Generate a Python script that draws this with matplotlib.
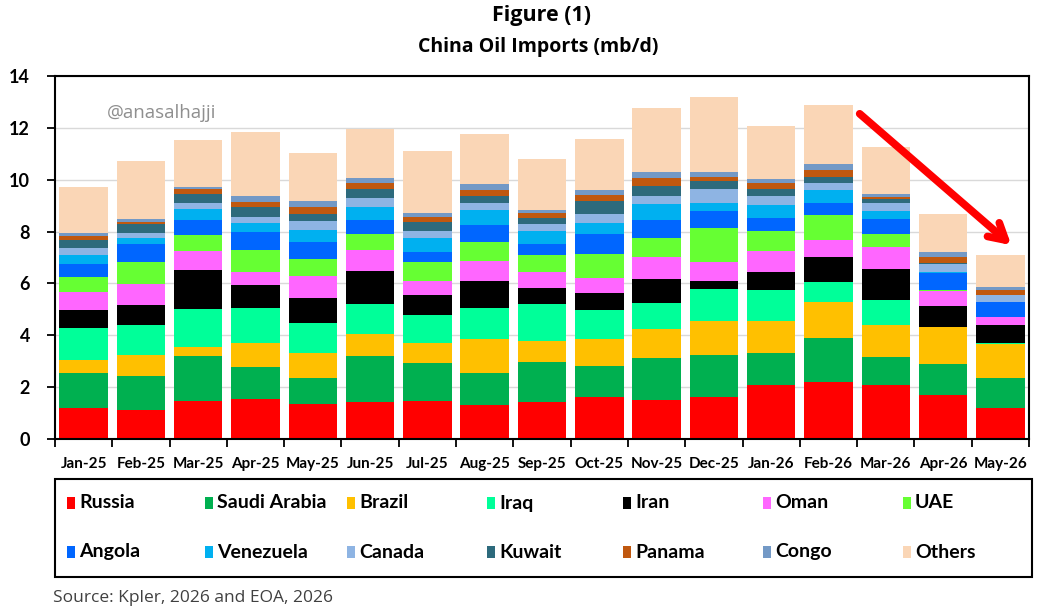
import matplotlib
matplotlib.use("Agg")
import matplotlib.pyplot as plt
from matplotlib.patches import Rectangle
import numpy as np

months = ["Jan-25", "Feb-25", "Mar-25", "Apr-25", "May-25", "Jun-25", "Jul-25",
          "Aug-25", "Sep-25", "Oct-25", "Nov-25", "Dec-25", "Jan-26", "Feb-26",
          "Mar-26", "Apr-26", "May-26"]

russia    = [1.21, 1.13, 1.45, 1.54, 1.35, 1.41, 1.45, 1.31, 1.41, 1.62, 1.52, 1.62, 2.08, 2.19, 2.08, 1.70, 1.21]
saudi     = [1.32, 1.30, 1.75, 1.24, 1.02, 1.79, 1.49, 1.22, 1.57, 1.19, 1.60, 1.61, 1.25, 1.72, 1.09, 1.19, 1.16]
brazil    = [0.53, 0.80, 0.35, 0.92, 0.96, 0.86, 0.75, 1.34, 0.81, 1.03, 1.12, 1.32, 1.22, 1.39, 1.21, 1.44, 1.29]
iraq      = [1.23, 1.15, 1.48, 1.35, 1.13, 1.16, 1.10, 1.18, 1.40, 1.15, 0.99, 1.23, 1.21, 0.77, 0.99, 0.00, 0.04]
iran      = [0.70, 0.77, 1.49, 0.90, 0.98, 1.27, 0.75, 1.06, 0.63, 0.63, 0.94, 0.30, 0.67, 0.95, 1.19, 0.80, 0.68]
oman      = [0.67, 0.84, 0.73, 0.50, 0.85, 0.80, 0.57, 0.77, 0.63, 0.59, 0.85, 0.76, 0.82, 0.67, 0.83, 0.58, 0.34]
uae       = [0.57, 0.84, 0.63, 0.84, 0.65, 0.63, 0.70, 0.73, 0.63, 0.91, 0.73, 1.30, 0.78, 0.96, 0.50, 0.03, 0.00]
angola    = [0.53, 0.68, 0.56, 0.69, 0.67, 0.52, 0.41, 0.63, 0.43, 0.80, 0.69, 0.67, 0.51, 0.46, 0.59, 0.67, 0.56]
venezuela = [0.35, 0.25, 0.44, 0.35, 0.45, 0.51, 0.54, 0.59, 0.51, 0.42, 0.61, 0.30, 0.50, 0.51, 0.32, 0.02, 0.00]
canada    = [0.24, 0.18, 0.23, 0.22, 0.36, 0.34, 0.27, 0.28, 0.26, 0.32, 0.32, 0.53, 0.33, 0.24, 0.31, 0.32, 0.29]
kuwait    = [0.32, 0.34, 0.32, 0.40, 0.27, 0.35, 0.35, 0.27, 0.25, 0.52, 0.40, 0.30, 0.27, 0.26, 0.13, 0.02, 0.00]
panama    = [0.17, 0.10, 0.22, 0.19, 0.26, 0.22, 0.18, 0.22, 0.17, 0.22, 0.28, 0.15, 0.22, 0.24, 0.10, 0.26, 0.18]
congo     = [0.12, 0.10, 0.08, 0.22, 0.23, 0.20, 0.15, 0.25, 0.13, 0.20, 0.25, 0.22, 0.17, 0.26, 0.09, 0.17, 0.13]
others    = [1.74, 2.24, 1.80, 2.48, 1.85, 1.91, 2.40, 1.91, 1.97, 1.96, 2.45, 2.89, 2.05, 2.27, 1.82, 1.46, 1.23]

series_names = ["Russia", "Saudi Arabia", "Brazil", "Iraq", "Iran", "Oman", "UAE",
                "Angola", "Venezuela", "Canada", "Kuwait", "Panama", "Congo", "Others"]
series_values = [russia, saudi, brazil, iraq, iran, oman, uae,
                 angola, venezuela, canada, kuwait, panama, congo, others]
series_colors = ["#FF0000", "#00B050", "#FFC000", "#00FF99", "#000000", "#FF66FF", "#66FF33",
                 "#0066FF", "#00B0F0", "#8EB4E3", "#2D6A7C", "#C0580F", "#7399C6", "#FAD6B6"]

y_ticks = [0, 2, 4, 6, 8, 10, 12, 14]

W, H = 1046, 614
fig = plt.figure(figsize=(W / 100, H / 100), dpi=100)
fig.patch.set_facecolor("white")

ax_l, ax_r, ax_t, ax_b = 55, 1029, 76, 439
ax = fig.add_axes([ax_l / W, 1 - ax_b / H, (ax_r - ax_l) / W, (ax_b - ax_t) / H])

x = np.arange(len(months))
bottom = np.zeros(len(months))
for name, vals, col in zip(series_names, series_values, series_colors):
    v = np.array(vals)
    ax.bar(x, v, bottom=bottom, width=0.845, color=col, label=name, zorder=2, linewidth=0)
    bottom += v

ax.set_xlim(-0.5, len(months) - 0.5)
ax.set_ylim(0, 14)
ax.set_yticks(y_ticks)
ax.set_yticklabels([str(t) for t in y_ticks], fontsize=13, fontweight="bold", family="Lato")
ax.grid(axis="y", color="#d9d9d9", linewidth=1.0, zorder=0)
ax.set_axisbelow(True)

ax.set_xticks(x)
ax.set_xticklabels(months, fontsize=11, fontweight="bold", family="Lato")
ax.set_xticks(np.arange(len(months) + 1) - 0.5, minor=True)
ax.tick_params(axis="x", which="major", length=0, pad=13)
ax.tick_params(axis="x", which="minor", length=6, width=1.3, direction="out")
ax.tick_params(axis="y", length=6, width=1.3, direction="out", pad=12)

for s in ax.spines.values():
    s.set_color("black")
    s.set_linewidth(1.5)

# watermark
ax.text(0.053, 0.897, "@anasalhajji", transform=ax.transAxes, fontsize=13.5,
        color="#8f8f8f", family="Open Sans", va="center", ha="left")

# red arrow
ax.annotate("", xy=(0.984, 0.529), xytext=(0.824, 0.901), xycoords="axes fraction",
            textcoords="axes fraction",
            arrowprops=dict(arrowstyle="->,head_length=1.15,head_width=0.65",
                            color="#FF0000", lw=5.5, capstyle="round", joinstyle="round"),
            zorder=5)

# titles
fig.text(542 / W, 1 - 16 / H, "Figure (1)", ha="center", va="center",
         fontsize=15.5, fontweight="bold", family="Open Sans")
fig.text(538 / W, 1 - 47 / H, "China Oil Imports (mb/d)", ha="center", va="center",
         fontsize=14, fontweight="bold", family="Open Sans")

# legend (box with 7 columns x 2 rows)
lg_l, lg_r, lg_t, lg_b = 55, 1032, 479, 577
fig.patches.append(Rectangle((lg_l / W, 1 - lg_b / H), (lg_r - lg_l) / W, (lg_b - lg_t) / H,
                             transform=fig.transFigure, fill=False, edgecolor="black",
                             linewidth=1.5))
col_x = [67, 205, 347, 487, 623, 763, 903]
row_y = [503, 552]
for i, (name, col) in enumerate(zip(series_names, series_colors)):
    r, c = divmod(i, 7)
    px, py = col_x[c], row_y[r]
    fig.patches.append(Rectangle((px / W, 1 - (py + 6) / H), 8 / W, 12 / H,
                                 transform=fig.transFigure, facecolor=col, edgecolor="none"))
    fig.text((px + 12) / W, 1 - py / H, name, ha="left", va="center", fontsize=14,
             fontweight="bold", family="Lato")

fig.text(53 / W, 1 - 598 / H, "Source: Kpler, 2026 and EOA, 2026", ha="left", va="center",
         fontsize=12.5, color="#404040", family="Open Sans")

fig.savefig("out.png", dpi=100, facecolor="white")
